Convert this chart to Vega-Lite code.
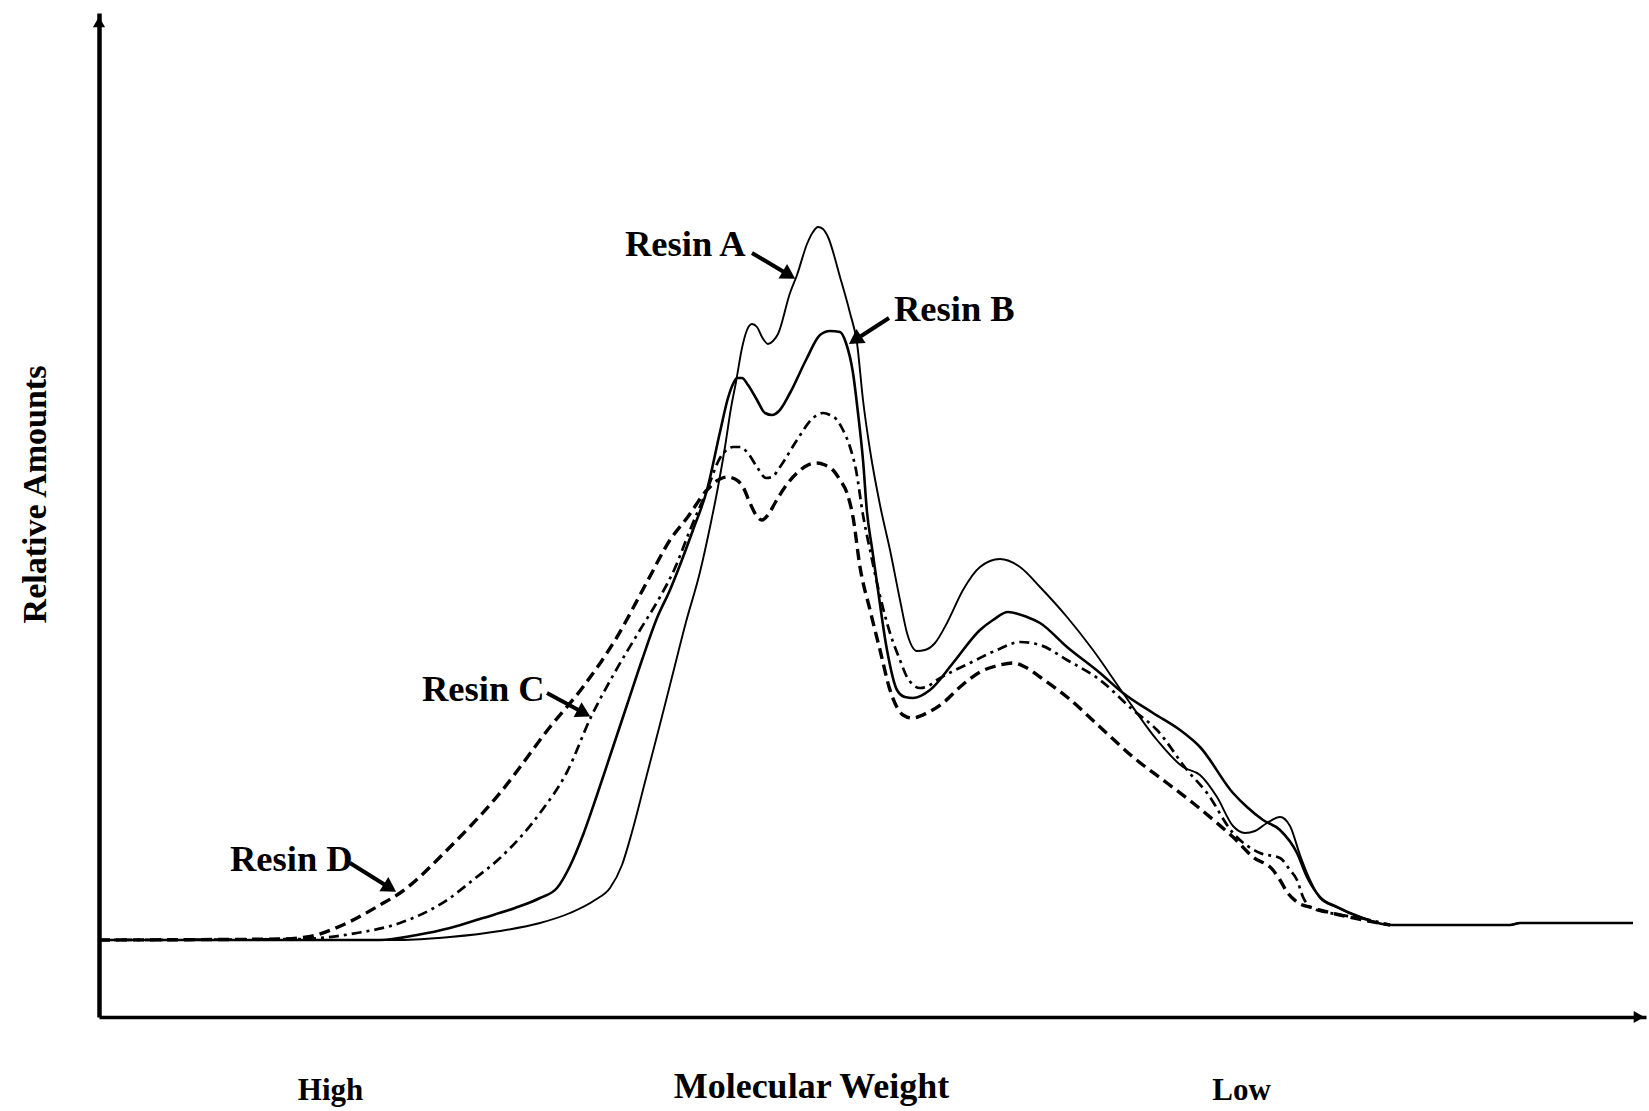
{
  "$schema": "https://vega.github.io/schema/vega-lite/v6.json",
  "width": 1547,
  "height": 1004,
  "autosize": "none",
  "padding": {"left": 99, "top": 13, "right": 3, "bottom": 94},
  "background": "white",
  "config": {
    "view": {"stroke": null},
    "font": "Liberation Serif"
  },
  "datasets": {
    "A": [[0,7.7],[30.1,7.7],[35.1,8.0],[40.1,8.6],[44.1,9.4],[47.1,10.4],[49.6,11.7],[51.1,12.9],[52.3,15.2],[53.3,18.5],[54.6,23.5],[55.9,28.5],[57.3,34.0],[58.7,39.5],[60.1,44.5],[61.1,49.0],[61.9,53.0],[62.6,57.0],[63.2,60.9],[63.7,63.5],[64.3,66.9],[64.8,68.7],[65.3,69.3],[65.8,69.0],[66.3,68.0],[66.9,67.3],[67.4,67.6],[67.9,68.3],[69.1,72.4],[69.8,74.2],[70.8,77.3],[71.4,78.5],[71.9,79.0],[72.4,78.8],[72.9,78.0],[74.1,74.0],[75.1,70.4],[75.8,67.4],[76.4,61.7],[77.1,56.7],[78.1,51.2],[79.1,46.7],[80.1,41.7],[80.8,38.4],[81.8,36.6],[82.6,36.7],[83.6,37.4],[84.8,39.4],[86.4,42.7],[88.1,45.0],[90.1,45.8],[92.1,45.0],[94.1,43.0],[96.8,40.0],[99.4,36.7],[102.4,32.4],[105.8,27.7],[108.4,25.0],[110.1,24.2],[111.8,22.0],[113.4,19.1],[114.6,18.4],[115.6,18.6],[116.8,19.4],[118.1,20.0],[119.1,19.1],[120.1,16.2],[121.1,13.7],[122.1,11.9],[123.7,11.0],[126.1,10.0],[129.1,9.2],[141.1,9.2],[142.1,9.4],[153.4,9.4]],
    "B": [[0,7.7],[28.1,7.7],[31.8,8.2],[35.1,8.9],[38.4,9.9],[41.6,10.9],[44.1,11.9],[45.8,12.9],[47.1,15.1],[48.4,18.2],[49.8,22.2],[51.3,26.7],[52.8,31.2],[54.3,35.7],[55.8,39.9],[57.1,42.7],[58.1,45.2],[59.4,48.7],[60.8,52.7],[62.1,58.5],[62.9,61.9],[63.4,63.3],[63.8,63.9],[64.3,63.9],[64.9,63.2],[65.8,61.7],[66.6,60.4],[67.3,60.2],[68.0,60.6],[69.1,62.4],[70.7,65.7],[72.1,68.2],[73.1,68.6],[74.1,68.5],[74.7,67.4],[75.4,64.4],[75.9,60.4],[76.4,55.7],[76.8,50.5],[77.3,46.9],[77.8,43.4],[78.8,36.7],[79.8,32.7],[80.6,32.0],[81.4,31.9],[83.1,32.7],[85.4,35.4],[88.1,38.7],[89.4,39.7],[90.9,40.5],[92.8,40.0],[94.1,39.4],[96.8,37.0],[100.1,34.4],[102.4,32.4],[105.4,30.4],[108.1,28.7],[110.1,27.0],[113.4,22.4],[114.8,21.0],[116.4,19.7],[118.1,18.7],[119.8,16.4],[120.8,14.0],[122.1,12.0],[123.8,11.0],[126.1,10.0],[129.1,9.2],[141.1,9.2],[142.1,9.4],[153.4,9.4]],
    "C": [[0,7.7],[20.1,7.8],[25.8,8.4],[30.1,9.4],[34.8,11.7],[37.4,13.7],[40.1,15.9],[44.1,20.4],[46.8,24.5],[49.2,30.0],[51.6,34.5],[54.1,38.7],[56.1,42.0],[57.6,44.9],[59.1,48.7],[60.8,52.7],[62.1,55.9],[62.9,56.8],[63.4,57.0],[64.1,57.0],[64.8,56.5],[65.8,55.0],[66.7,53.9],[67.3,54.0],[68.1,55.0],[69.8,57.7],[71.4,59.9],[72.4,60.4],[73.1,60.2],[73.8,59.7],[74.4,58.7],[75.1,57.0],[75.7,54.7],[76.4,50.2],[77.1,46.7],[77.8,43.4],[79.1,38.4],[80.1,35.7],[80.8,34.0],[82.1,32.9],[82.9,33.1],[83.8,33.7],[87.1,35.4],[89.8,36.7],[92.1,37.5],[94.1,37.2],[96.8,35.7],[100.1,33.7],[103.4,30.7],[105.8,28.7],[108.8,24.7],[110.8,22.4],[113.4,18.4],[116.1,16.4],[118.1,15.9],[119.1,14.7],[119.8,13.7],[120.4,12.0],[121.1,11.0],[123.6,10.3],[126.1,9.9],[129.1,9.2]],
    "D": [[0,7.7],[18.1,7.8],[20.8,8.0],[24.8,9.4],[28.1,11.2],[30.1,12.4],[35.1,17.0],[40.1,22.4],[45.1,29.0],[48.4,33.0],[51.8,38.0],[54.9,43.7],[57.1,47.7],[58.8,49.9],[60.8,52.7],[62.1,53.8],[62.8,54.0],[63.6,53.8],[64.4,53.0],[65.1,51.4],[65.7,50.2],[66.3,49.7],[66.9,50.2],[67.6,51.4],[68.6,53.0],[69.8,54.4],[70.9,55.2],[71.8,55.4],[72.6,55.2],[73.4,54.7],[74.1,53.7],[74.8,52.4],[75.4,50.0],[76.1,45.0],[77.1,40.7],[78.1,36.7],[79.1,32.7],[80.4,30.2],[81.3,29.9],[82.8,30.4],[84.4,31.4],[86.1,33.0],[88.1,34.5],[90.1,35.2],[91.4,35.4],[92.8,34.9],[94.1,34.0],[96.8,32.0],[100.1,29.0],[103.4,26.0],[106.8,23.4],[109.4,21.4],[111.8,19.4],[113.4,18.0],[115.4,16.0],[117.4,14.7],[118.1,13.7],[118.8,12.5],[119.8,11.5],[121.4,10.9],[124.1,10.2],[129.1,9.2]],
    "labels": [
      {"label": "Resin A", "x": 52.6, "y": 76.1},
      {"label": "Resin B", "x": 79.5, "y": 69.6},
      {"label": "Resin C", "x": 32.3, "y": 31.6},
      {"label": "Resin D", "x": 13.1, "y": 14.6}
    ],
    "arrows": [
      {"resin": "A", "x": 65.3, "y": 76.4, "x2": 69.0, "y2": 74.2, "angle": 31},
      {"resin": "B", "x": 79.0, "y": 69.9, "x2": 75.6, "y2": 67.7, "angle": 147},
      {"resin": "C", "x": 44.8, "y": 32.4, "x2": 48.5, "y2": 30.4, "angle": 28},
      {"resin": "D", "x": 25.1, "y": 15.4, "x2": 29.1, "y2": 12.9, "angle": 32}
    ],
    "axisheads": [
      {"x": 0, "y": 99.5, "shape": "triangle-up"},
      {"x": 154.0, "y": 0, "shape": "triangle-right"}
    ]
  },
  "layer": [
    {
      "data": {"name": "A"},
      "transform": [{"calculate": "datum[0]", "as": "mw"}, {"calculate": "datum[1]", "as": "amt"}],
      "mark": {"type": "line", "color": "black", "strokeWidth": 1.9, "interpolate": "monotone"},
      "encoding": {
        "x": {"field": "mw", "type": "quantitative", "scale": {"domain": [0, 154.7], "nice": false, "zero": false},
          "axis": {"title": "Molecular Weight", "grid": false, "ticks": false, "tickSize": 0, "domain": true, "domainColor": "black", "domainWidth": 3.5,
            "values": [23.1, 114.2], "labelExpr": "datum.value < 50 ? 'High' : 'Low'", "labelFont": "Liberation Serif", "labelFontWeight": "bold", "labelFontSize": 31, "labelColor": "black", "labelBaseline": "alphabetic", "labelPadding": 82, "labelFlush": false, "labelOverlap": false,
            "titleFont": "Liberation Serif", "titleFontWeight": "bold", "titleFontSize": 36, "titleColor": "black", "titleBaseline": "alphabetic", "titleX": 712, "titleY": 80, "titleAlign": "center"}},
        "y": {"field": "amt", "type": "quantitative", "scale": {"domain": [0, 100.4], "nice": false},
          "axis": {"title": "Relative Amounts", "grid": false, "ticks": false, "labels": false, "domain": true, "domainColor": "black", "domainWidth": 4.5,
            "titleFont": "Liberation Serif", "titleFontWeight": "bold", "titleFontSize": 34, "titleColor": "black", "titleAngle": -90, "titleBaseline": "alphabetic", "titleAlign": "center", "titleX": -54, "titleY": 481}}
      }
    },
    {
      "data": {"name": "B"},
      "transform": [{"calculate": "datum[0]", "as": "mw"}, {"calculate": "datum[1]", "as": "amt"}],
      "mark": {"type": "line", "color": "black", "strokeWidth": 2.6, "interpolate": "monotone"},
      "encoding": {"x": {"field": "mw", "type": "quantitative"}, "y": {"field": "amt", "type": "quantitative"}}
    },
    {
      "data": {"name": "C"},
      "transform": [{"calculate": "datum[0]", "as": "mw"}, {"calculate": "datum[1]", "as": "amt"}],
      "mark": {"type": "line", "color": "black", "strokeWidth": 2.7, "strokeDash": [10, 5, 3, 5], "interpolate": "monotone"},
      "encoding": {"x": {"field": "mw", "type": "quantitative"}, "y": {"field": "amt", "type": "quantitative"}}
    },
    {
      "data": {"name": "D"},
      "transform": [{"calculate": "datum[0]", "as": "mw"}, {"calculate": "datum[1]", "as": "amt"}],
      "mark": {"type": "line", "color": "black", "strokeWidth": 3.4, "strokeDash": [11, 6], "interpolate": "monotone"},
      "encoding": {"x": {"field": "mw", "type": "quantitative"}, "y": {"field": "amt", "type": "quantitative"}}
    },
    {
      "data": {"name": "labels"},
      "mark": {"type": "text", "align": "left", "baseline": "alphabetic", "font": "Liberation Serif", "fontWeight": "bold", "fontSize": 36.5, "color": "black"},
      "encoding": {
        "x": {"field": "x", "type": "quantitative"},
        "y": {"field": "y", "type": "quantitative"},
        "text": {"field": "label"}
      }
    },
    {
      "data": {"name": "arrows"},
      "mark": {"type": "rule", "color": "black", "strokeWidth": 4},
      "encoding": {
        "x": {"field": "x", "type": "quantitative"},
        "y": {"field": "y", "type": "quantitative"},
        "x2": {"field": "x2"},
        "y2": {"field": "y2"}
      }
    },
    {
      "data": {"name": "arrows"},
      "mark": {"type": "point", "shape": "triangle-right", "filled": true, "color": "black", "size": 280, "opacity": 1},
      "encoding": {
        "x": {"field": "x2", "type": "quantitative"},
        "y": {"field": "y2", "type": "quantitative"},
        "angle": {"field": "angle", "type": "quantitative", "scale": null}
      }
    },
    {
      "data": {"name": "axisheads"},
      "mark": {"type": "point", "filled": true, "color": "black", "size": 150, "opacity": 1},
      "encoding": {
        "x": {"field": "x", "type": "quantitative"},
        "y": {"field": "y", "type": "quantitative"},
        "shape": {"field": "shape", "type": "nominal", "scale": null}
      }
    }
  ]
}
